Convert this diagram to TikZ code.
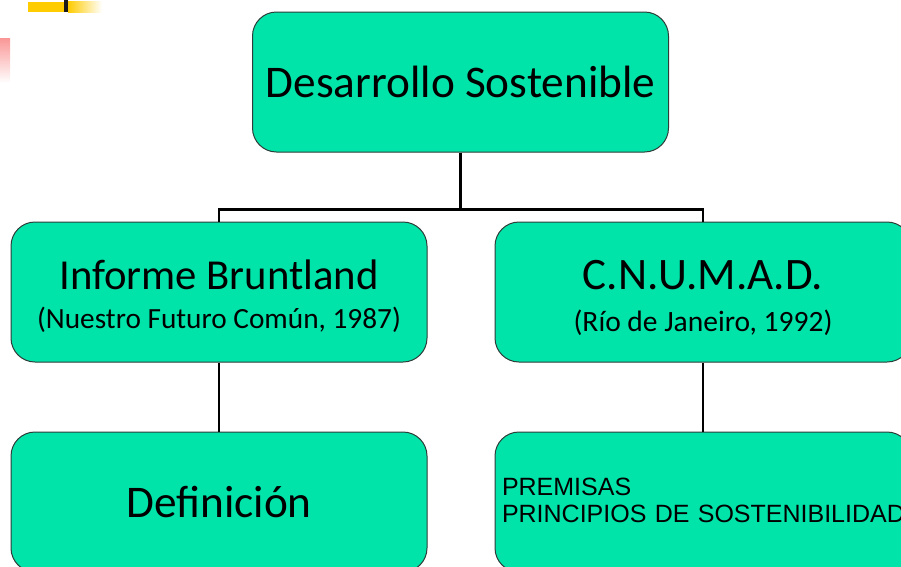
\documentclass[tikz,border=0pt]{standalone}
\usepackage{fontspec}
\setmainfont{Carlito}
\newfontfamily\arialfont{Liberation Sans}
\definecolor{boxgreen}{RGB}{0,228,170}
\definecolor{edgegray}{RGB}{45,60,55}
\definecolor{decoyellow}{RGB}{255,204,0}
\definecolor{decopink}{RGB}{250,150,150}
\begin{document}
\begin{tikzpicture}[x=1pt,y=-1pt,
  box/.style={draw=edgegray, line width=1pt, fill=boxgreen, rounded corners=24pt,
    minimum width=416pt, minimum height=140pt, inner sep=0pt, align=center},
  boxtext/.style={inner sep=0pt, align=center},
  conn/.style={line width=2.6pt, draw=black}]
\useasboundingbox (0,0) rectangle (901,566);
\clip (0,0) rectangle (901,566);
% decorations in the top-left corner
\fill[decoyellow] (28,2) rectangle (64,12);
\fill[black!90] (64,0) rectangle (68,12);
\shade[left color=decoyellow, right color=white] (68,1) rectangle (102,12);
\shade[top color=decopink, bottom color=white] (0,38) rectangle (10,83);
% boxes
\node[box, font=\fontsize{45.3}{54}\selectfont] (top) at (460.5,82) {Desarrollo Sostenible};
\node[box] (inf) at (219,292) {};
\node[boxtext, font=\fontsize{29.3}{39}\selectfont] (inftxt) at (219,296) {{\fontsize{42.7}{50}\selectfont Informe Bruntland}\\(Nuestro Futuro Común, 1987)};
\node[box] (cnu) at (703,292) {};
\node[boxtext, font=\fontsize{29.5}{42}\selectfont] (cnutxt) at (703,297.5) {{\fontsize{45}{50}\selectfont C.N.U.M.A.D.}\\(Río de Janeiro, 1992)};
\node[box, font=\fontsize{45.3}{54}\selectfont] (def) at (219,502) {Definición};
\node[box] (pre) at (703,502) {};
\node[boxtext, align=left, text width=402pt, font=\arialfont\fontsize{25}{27}\selectfont] (pretxt) at (703,500) {\mbox{PREMISAS}\\\mbox{PRINCIPIOS DE SOSTENIBILIDAD}};
% connectors
\draw[conn] (top.south) -- ++(0,57) coordinate (j);
\draw[conn] (inf.north) |- (j) -| (cnu.north);
\draw[conn] (inf.south) -- (def.north);
\draw[conn] (cnu.south) -- (pre.north);
\end{tikzpicture}
\end{document}
